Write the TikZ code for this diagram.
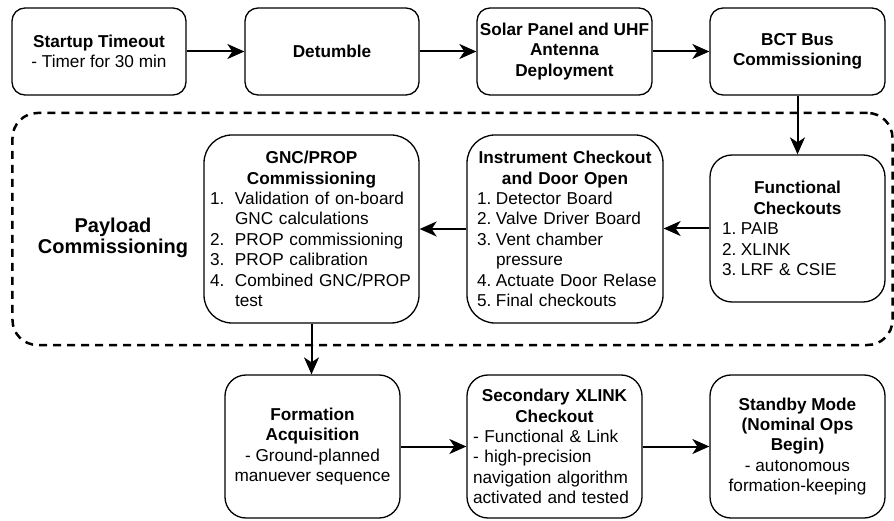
\documentclass[tikz,border=0pt]{standalone}
\usepackage{fontspec}
\setmainfont{Liberation Sans}
\usetikzlibrary{arrows.meta}
\newcommand\numitm[2][19bp]{\makebox[#1][l]{#2}}
\begin{document}
\begin{tikzpicture}[x=1bp,y=-1bp,
  every node/.style={font=\fontsize{17.2bp}{20.4bp}\selectfont},
  box/.style={draw, line width=1.3bp, inner sep=0pt, rounded corners=#1},
  box/.default=13bp,
  arr/.style={line width=2bp, -{Stealth[length=17bp,width=15bp,inset=5bp]}},
  group/.style={draw, line width=2.5bp, dash pattern=on 8bp off 6bp, rounded corners=25bp, inner sep=0pt},
  grouplabel/.style={font=\fontsize{20bp}{21bp}\selectfont\bfseries, align=center, inner sep=0pt}]
\useasboundingbox (0,0) rectangle (894,521);

% group container
\node[group, minimum width=880bp, minimum height=232bp] (pay) at (452.5,229) {};
\node[grouplabel] (paylabel) at (113,238) {Payload\\Commissioning};

% top row
\node[box, minimum width=174bp, minimum height=87bp, align=center] (st) at (99,51.5)
  {\textbf{Startup Timeout}\\- Timer for 30 min};
\node[box, minimum width=174bp, minimum height=87bp, align=center] (de) at (332,51.5)
  {\textbf{Detumble}};
\node[box, minimum width=175bp, minimum height=87bp, align=center] (so) at (564.5,51.5)
  {\textbf{Solar Panel and UHF}\\\textbf{Antenna}\\\textbf{Deployment}};
\node[box, minimum width=175bp, minimum height=87bp, align=center] (bc) at (797.5,51.5)
  {\textbf{BCT Bus}\\\textbf{Commissioning}};

% middle row
\node[box=22bp, minimum width=175bp, minimum height=147bp, text width=151bp] (fc) at (797.5,228.5)
  {\centering\bfseries Functional\\Checkouts\par
   \mdseries\raggedright
   \numitm{1.}PAIB\\
   \numitm{2.}XLINK\\
   \numitm{3.}LRF \& CSIE\par};
\node[box=28bp, minimum width=196bp, minimum height=188bp, text width=186bp] (ic) at (565,229)
  {\centering\bfseries Instrument Checkout\\and Door Open\par
   \mdseries\raggedright\leftskip=5bp
   \numitm{1.}Detector Board\\
   \numitm{2.}Valve Driver Board\\
   \numitm{3.}Vent chamber\\
   \numitm{}pressure\\
   \numitm{4.}Actuate Door Relase\\
   \numitm{5.}Final checkouts\par};
\node[box=28bp, minimum width=215bp, minimum height=188bp, text width=203bp] (gn) at (311.5,229)
  {\centering\bfseries GNC/PROP\\Commissioning\par
   \mdseries\raggedright
   \numitm[25bp]{1.}Validation of on-board\\
   \numitm[25bp]{}GNC calculations\\
   \numitm[25bp]{2.}PROP commissioning\\
   \numitm[25bp]{3.}PROP calibration\\
   \numitm[25bp]{4.}Combined GNC/PROP\\
   \numitm[25bp]{}test\par};

% bottom row
\node[box=21bp, minimum width=175bp, minimum height=143bp, align=center] (fa) at (312.5,446.5)
  {\textbf{Formation}\\\textbf{Acquisition}\\- Ground-planned\\manuever sequence};
\node[box=21bp, minimum width=175bp, minimum height=143bp, text width=163bp] (sx) at (554.5,446.5)
  {\centering\bfseries Secondary XLINK\\Checkout\par
   \mdseries\raggedright
   - Functional \& Link\\
   - high-precision\\
   navigation algorithm\\
   activated and tested\par};
\node[box=21bp, minimum width=175bp, minimum height=143bp, align=center] (sb) at (797.5,446.5)
  {\textbf{Standby Mode}\\\textbf{(Nominal Ops}\\\textbf{Begin)}\\- autonomous\\formation-keeping};

% connectors
\draw[arr] (st) -- (de);
\draw[arr] (de) -- (so);
\draw[arr] (so) -- (bc);
\draw[arr] (bc) -- (fc);
\draw[arr] (fc.west) -- (fc.west -| ic.east);
\draw[arr] (ic) -- (gn);
\draw[arr] (gn.south) -- (gn.south |- fa.north);
\draw[arr] (fa) -- (sx);
\draw[arr] (sx) -- (sb);
\end{tikzpicture}
\end{document}
